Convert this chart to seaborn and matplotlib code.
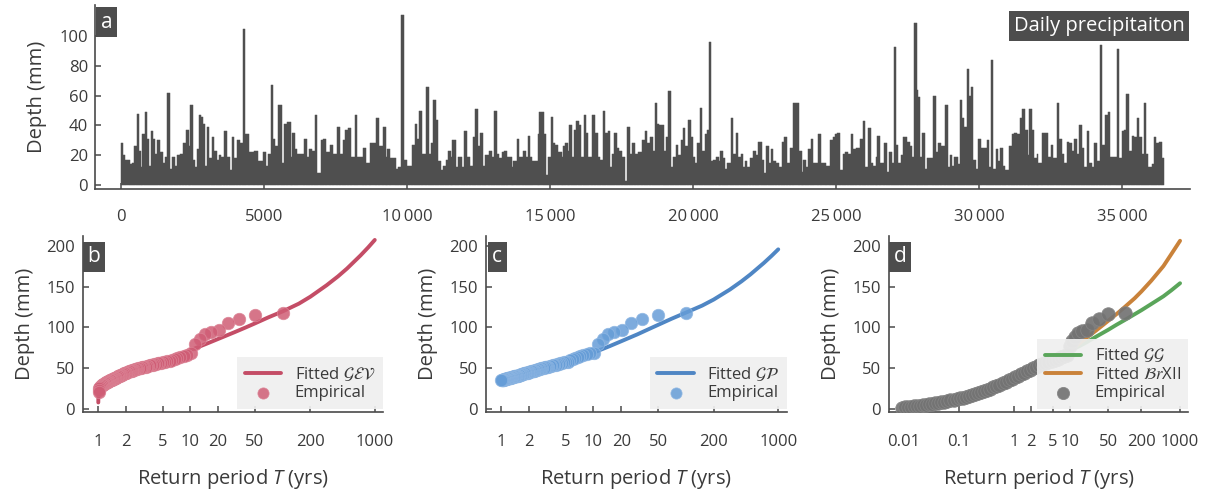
import numpy as np
import matplotlib
matplotlib.use("Agg")
import matplotlib.pyplot as plt
import seaborn as sns

# ------------------------------------------------------------------ data
# panel a: daily precipitation record, (start day of visible segment, depth mm)
rain_record = [
    (0, 28), (82, 20), (140, 17), (315, 14), (373, 15), (466, 26), (548, 48), (618, 23), (688, 12), (746, 34),
    (828, 49), (921, 31), (991, 13), (1037, 36), (1131, 31), (1189, 21), (1271, 30), (1364, 22), (1457, 15), (1550, 19),
    (1620, 62), (1713, 11), (1783, 19), (1888, 13), (1970, 20), (2063, 21), (2180, 28), (2273, 37), (2366, 26), (2413, 54),
    (2506, 17), (2588, 12), (2669, 24), (2716, 47), (2786, 46), (2879, 41), (2949, 13), (2996, 39), (3089, 18), (3170, 32),
    (3264, 23), (3345, 17), (3439, 20), (3497, 19), (3613, 36), (3718, 19), (3811, 10), (3870, 32), (3963, 18), (4068, 30),
    (4161, 28), (4278, 105), (4348, 34), (4464, 22), (4651, 23), (4802, 16), (4954, 22), (5070, 13), (5152, 21), (5234, 67),
    (5327, 31), (5397, 26), (5502, 54), (5618, 15), (5700, 41), (5793, 42), (5933, 19), (5980, 35), (6084, 24), (6166, 21),
    (6399, 31), (6492, 19), (6586, 24), (6667, 23), (6784, 47), (6865, 8), (6982, 30), (7075, 31), (7168, 22), (7308, 27),
    (7401, 21), (7565, 39), (7658, 21), (7775, 30), (7833, 37), (7950, 38), (8031, 19), (8194, 47), (8264, 19), (8451, 25),
    (8567, 15), (8707, 28), (8917, 45),
    (9034, 26), (9173, 39), (9255, 19), (9313, 24), (9407, 18), (9605, 11), (9698, 12), (9791, 114), (9884, 17), (9989, 13),
    (10164, 27), (10281, 41), (10339, 31), (10432, 50), (10537, 21), (10665, 66), (10770, 21), (10840, 28), (10922, 57), (11004, 44),
    (11097, 16), (11190, 10), (11272, 13), (11353, 17), (11423, 23), (11540, 19), (11586, 30), (11703, 12), (11796, 19), (11913, 12),
    (12006, 36), (12099, 19), (12204, 13), (12321, 32), (12379, 51), (12472, 26), (12566, 35), (12659, 13), (12729, 20), (12869, 23),
    (12985, 19), (13055, 50), (13148, 21), (13218, 18), (13312, 22), (13405, 23), (13498, 19), (13661, 12), (13720, 16), (13836, 31),
    (13918, 19), (14070, 23), (14151, 19), (14221, 33), (14303, 19), (14384, 16), (14571, 34), (14629, 49), (14804, 34), (14874, 7),
    (14944, 19), (15037, 46), (15119, 28), (15177, 27), (15293, 22), (15410, 19), (15456, 26), (15527, 28), (15620, 23), (15667, 40),
    (15760, 19), (15830, 37), (15900, 43), (16016, 40), (16086, 19), (16179, 47), (16272, 35), (16342, 19), (16482, 47), (16575, 35),
    (16669, 19), (16762, 17), (16855, 50), (16925, 35), (17018, 36), (17100, 12), (17182, 21), (17252, 35), (17345, 25), (17415, 23),
    (17508, 19), (17625, 3), (17695, 39), (17800, 21), (17881, 28), (17974, 21), (18091, 22), (18207, 30),
    (18324, 36), (18405, 28), (18499, 32), (18592, 23), (18674, 55), (18755, 41), (18825, 40), (18988, 23), (19058, 32), (19140, 63),
    (19221, 12), (19315, 19), (19396, 27), (19490, 20), (19571, 30), (19641, 38), (19734, 26), (19839, 44), (19921, 32), (19991, 19),
    (20073, 15), (20131, 28), (20248, 52), (20329, 23), (20422, 34), (20480, 37), (20550, 96), (20620, 16), (20714, 17), (20807, 19),
    (20900, 16), (20947, 23), (21040, 18), (21133, 11), (21203, 15), (21320, 45), (21413, 21), (21506, 35), (21588, 19), (21669, 21),
    (21739, 12), (21821, 16), (21902, 12), (21996, 18), (22112, 23), (22206, 20), (22287, 29), (22404, 17), (22485, 8), (22555, 26),
    (22649, 15), (22718, 24), (22812, 16), (22905, 15), (23022, 12), (23103, 29), (23197, 32), (23301, 15), (23395, 25), (23488, 55),
    (23721, 23), (23803, 9), (23861, 17), (23954, 12), (24036, 24), (24117, 31), (24211, 15), (24385, 34), (24467, 15), (24654, 13),
    (24793, 30), (24887, 32), (24968, 34), (25050, 35), (25143, 10), (25236, 21), (25330, 22), (25434, 21), (25540, 34), (25609, 24),
    (25702, 25), (25843, 31), (25936, 43), (26029, 12), (26122, 38), (26216, 15), (26309, 13), (26402, 19), (26449, 33), (26542, 15),
    (26694, 28), (26775, 9), (26868, 22), (26962, 15), (27032, 93), (27102, 27), (27183, 15), (27265, 20), (27358, 32), (27475, 29),
    (27591, 26), (27672, 19), (27742, 109), (27824, 64), (27882, 59), (27952, 19), (28022, 35), (28115, 11), (28174, 18), (28395, 60),
    (28488, 22), (28582, 28), (28675, 26), (28815, 54), (28908, 12), (28978, 20), (29048, 13), (29130, 19), (29281, 14), (29339, 57),
    (29421, 45), (29491, 39), (29573, 78), (29654, 60), (29724, 66), (29806, 17), (29887, 11), (29981, 31), (30074, 25), (30272, 30),
    (30354, 12), (30424, 84), (30505, 11), (30587, 24), (30680, 16), (30750, 25), (30843, 13), (30913, 10), (31053, 26), (31146, 34),
    (31239, 35), (31321, 34), (31438, 45), (31519, 51), (31613, 37), (31706, 20), (31752, 51), (31846, 37), (31939, 18), (32020, 21),
    (32079, 15), (32219, 35), (32428, 19), (32522, 27), (32603, 18), (32720, 55), (32802, 31), (32895, 21), (32988, 15), (33070, 29),
    (33151, 28), (33245, 23), (33338, 31), (33419, 21), (33501, 40), (33594, 25), (33687, 12), (33769, 36), (33851, 15), (33944, 12),
    (34037, 28), (34119, 16), (34247, 94), (34317, 27), (34410, 47), (34503, 49), (34585, 19), (34830, 91), (34900, 18), (34993, 36),
    (35063, 37), (35156, 61), (35249, 23), (35343, 33), (35436, 32), (35518, 45), (35599, 32), (35693, 21), (35763, 55), (35833, 21),
    (35926, 12), (36043, 14), (36113, 32), (36206, 28), (36299, 29), (36392, 18),
]
record_end_day = 36470

a_xticks = [0, 5000, 10000, 15000, 20000, 25000, 30000, 35000]
a_xticklabels = ["0", "5000", "10\u2009000", "15\u2009000", "20\u2009000",
                 "25\u2009000", "30\u2009000", "35\u2009000"]
a_yticks = [0, 20, 40, 60, 80, 100]

# panel b: annual maxima (descending), fitted GEV
annual_max_mm = [117, 115, 110, 105.5, 97, 94, 92, 86, 79, 68,
                 66, 65, 64, 63, 61.5, 60.5, 59, 58.5, 58, 57,
                 56.5, 56, 56, 55.5, 55, 54.5, 54, 53.5, 53, 52.5,
                 52, 52, 51.5, 51, 50.5, 50, 50, 49.5, 49, 48.5,
                 48, 48, 47.5, 47, 47, 46.5, 46, 45.5, 45, 44.5,
                 44, 44, 43.5, 43, 42.5, 42, 42, 41.5, 41, 40.5,
                 40, 40, 39.5, 39, 38.5, 38, 38, 37.5, 37, 37,
                 36.5, 36, 36, 35.5, 35, 35, 34.5, 34, 34, 33.5,
                 33, 33, 32.5, 32, 32, 31.5, 31, 31, 30.5, 30,
                 30, 29.5, 29, 28.5, 28, 27.5, 27, 25.5, 23.5, 20.5]
gev_T = [1.0005, 1.002, 1.005, 1.01, 1.02, 1.05, 1.1, 1.2, 1.35, 1.5,
         1.75, 2, 2.5, 3, 4, 5, 7, 10, 15, 20,
         30, 40, 50, 70, 100, 150, 200, 300, 400, 500,
         700, 850, 1000]
gev_mm = [8, 13, 17, 20, 24, 28, 31, 34, 37, 39.5,
          42.5, 45, 48.5, 51.5, 55.5, 58.5, 65, 72, 80, 85.8,
          94, 100, 104.8, 112.2, 119.5, 129, 137.5, 151.5, 162.5, 172,
          188, 198, 207]

# panel c: peaks over threshold (descending), fitted GP
pot_mm = [117, 115, 110, 105.5, 97, 94, 92, 86, 79, 68,
          68, 67, 66, 65, 63.5, 62, 61, 59.5, 58, 57.5,
          57, 56.5, 56, 55.5, 55, 54.5, 54, 53.5, 53, 52.5,
          52, 51.5, 51, 51, 50.5, 50, 50, 49.5, 49, 48.5,
          48, 48, 47.5, 47, 47, 46.5, 46, 46, 45.5, 45,
          45, 44.5, 44.5, 44, 44, 43.5, 43.5, 43, 43, 42.5,
          42.5, 42, 42, 41.5, 41.5, 41, 41, 41, 40.5, 40.5,
          40, 40, 40, 39.5, 39.5, 39, 39, 39, 38.5, 38.5,
          38.5, 38, 38, 38, 37.5, 37.5, 37.5, 37, 37, 37,
          36.5, 36.5, 36.5, 36.5, 36, 36, 36, 35.5, 35.5, 35.5]
gp_T = [1, 1.25, 1.5, 2, 2.5, 3, 4, 5, 7, 10,
        15, 20, 30, 40, 50, 70, 100, 150, 200, 300,
        400, 500, 700, 850, 1000]
gp_mm = [35.5, 38.5, 41, 45.5, 48.5, 51, 54.5, 57.5, 63, 69,
         77, 83, 91.5, 98, 103, 110.5, 118, 126.6, 134, 146.3,
         156.3, 164.8, 178.9, 187.7, 195.5]

# panel d: all daily values (return period, depth), fitted GG and BrXII
daily_T = [0.0090, 0.0102, 0.0116, 0.0132, 0.0150, 0.0170, 0.0193, 0.0220, 0.0250, 0.0284,
           0.0322, 0.0366, 0.0416, 0.0473, 0.0537, 0.0610, 0.0693, 0.0788, 0.0895, 0.1017,
           0.1155, 0.1313, 0.1492, 0.1695, 0.1926, 0.2188, 0.2487, 0.2826, 0.3211, 0.3648,
           0.4145, 0.4710, 0.5352, 0.6082, 0.6910, 0.7852, 0.8922, 1.0138, 1.152, 1.309,
           1.487, 1.690, 1.920, 2.182, 2.479, 2.817, 3.20, 3.64, 4.13, 4.70,
           5.34, 6.06, 6.89, 7.83, 8.90,
           10.1, 11.2, 12.6, 14.4, 16.8, 20.2, 25.3, 33.7, 50.5, 101]
daily_mm = [1.5, 2.0, 2.4, 2.8, 3.2, 3.6, 4.0, 4.6, 5.2, 5.8,
            6.4, 7.0, 7.7, 8.4, 9.1, 9.9, 10.7, 11.5, 12.3, 13.1,
            14.0, 15.0, 16.0, 17.1, 18.3, 19.5, 20.8, 22.1, 23.5, 25.0,
            26.6, 28.2, 29.9, 31.6, 33.4, 35.2, 37.0, 38.8, 40.6, 42.4,
            44.3, 46.2, 48.0, 49.8, 51.5, 53.5, 55.2, 56.8, 58.0, 59.3,
            60.5, 61.8, 63.3, 64.8, 66.5,
            77, 83, 88, 92.5, 95.5, 97, 105.5, 110.5, 116, 118]
gg_T = [5, 7, 10, 15, 20, 30, 50, 70, 100, 150, 200, 300, 500, 700, 1000]
gg_mm = [60.5, 65.5, 71, 77, 81.5, 88.5, 97, 103, 109, 116, 121, 128.5, 138, 145.5, 154]
br_T = [5, 7, 10, 15, 20, 30, 50, 70, 100, 150, 200, 300, 500, 700, 1000]
br_mm = [58, 63.5, 70, 80.5, 87, 96, 108, 116, 125, 135.5, 144, 157, 175, 190, 206]

rp_ticks = [1, 2, 5, 10, 20, 50, 200, 1000]
rp_ticks_d = [0.01, 0.1, 1, 2, 5, 10, 50, 200, 1000]
depth_ticks = [0, 50, 100, 150, 200]

# ------------------------------------------------------------------ style
sns.set_theme(style="ticks")
plt.rcParams["font.family"] = ["Open Sans", "DejaVu Sans"]
plt.rcParams["mathtext.fontset"] = "custom"
plt.rcParams["mathtext.rm"] = "Open Sans"
plt.rcParams["mathtext.it"] = "Open Sans:italic"
plt.rcParams["mathtext.bf"] = "Open Sans:bold"

INK = "#3a3a3a"
SPINE = "#4a4a4a"
BOX = "#4d4d4d"
BAR = "#4f4f4f"
RED, RED_PT = "#c44d66", "#cf5d75"
BLUE, BLUE_PT = "#4f86c4", "#669dd7"
GRAY_PT = "#737373"
GREEN, ORANGE = "#5aa55a", "#c9823a"

fig = plt.figure(figsize=(12.1, 4.95), dpi=100)
fig.patch.set_facecolor("white")


def style_axes(ax, xpad, ypad):
    sns.despine(ax=ax)
    for s in ("left", "bottom"):
        ax.spines[s].set_color(SPINE)
        ax.spines[s].set_linewidth(1.2)
    ax.tick_params(axis="both", direction="in", length=4, width=1.1,
                   color=SPINE, labelcolor=INK, labelsize=12)
    ax.tick_params(axis="x", pad=xpad)
    ax.tick_params(axis="y", pad=ypad)
    ax.minorticks_off()


def panel_tag(ax, letter, x, y):
    ax.text(x, y, letter, transform=ax.transAxes, ha="center", va="center",
            color="white", fontsize=15,
            bbox=dict(boxstyle="square,pad=0.22", facecolor=BOX, edgecolor="none"))


# ---------------- panel a
axa = fig.add_axes([0.0785, 0.618, 0.905, 0.3723])
days = np.array([d for d, _ in rain_record], dtype=float)
mm = np.array([v for _, v in rain_record], dtype=float)
widths = np.diff(np.append(days, record_end_day))
axa.bar(days, mm, width=widths, align="edge", color=BAR,
        edgecolor=BAR, linewidth=0.35)
axa.set_xlim(-909, 37380)
axa.set_ylim(-2.7, 121)
axa.set_xticks(a_xticks)
axa.set_xticklabels(a_xticklabels)
axa.set_yticks(a_yticks)
style_axes(axa, xpad=14, ypad=5)
axa.set_ylabel("Depth (mm)", fontsize=14.5, color=INK, labelpad=9)
panel_tag(axa, "a", 0.0105, 0.905)
axa.text(0.917, 0.884, "Daily precipitaiton", transform=axa.transAxes,
         ha="center", va="center", color="white", fontsize=14.5,
         bbox=dict(boxstyle="square,pad=0.24", facecolor=BOX, edgecolor="none"))


def return_panel(rect, xlim, ticks, ticklabels):
    ax = fig.add_axes(rect)
    ax.set_xscale("log")
    ax.set_xlim(*xlim)
    ax.set_ylim(-3.4, 212)
    ax.set_xticks(ticks)
    ax.set_xticklabels(ticklabels)
    ax.set_yticks(depth_ticks)
    style_axes(ax, xpad=16, ypad=6)
    ax.set_ylabel("Depth (mm)", fontsize=14.5, color=INK, labelpad=8)
    ax.set_xlabel("Return period $T$ (yrs)", fontsize=14.5, color=INK, labelpad=12)
    return ax


def finish_legend(ax):
    leg = ax.legend(loc="lower right", bbox_to_anchor=(1.0, 0.016), borderaxespad=0,
                    frameon=True, fancybox=False, facecolor="#efefef", edgecolor="none",
                    framealpha=0.92, fontsize=12, handlelength=2.2, handletextpad=0.8,
                    labelspacing=0.15, borderpad=0.45, markerscale=0.9)
    for t in leg.get_texts():
        t.set_color(INK)
        t.set_math_fontfamily("stix")
    leg.set_zorder(6)
    return leg


def fmt(v):
    return f"{v:g}"


PT = 80

# ---------------- panel b
axb = return_panel([0.0688, 0.1681, 0.2474, 0.3554], (0.687, 1216), rp_ticks,
                   [fmt(t) for t in rp_ticks])
n_b = len(annual_max_mm)
T_b = (n_b + 1) / np.arange(1, n_b + 1)
sns.lineplot(x=gev_T, y=gev_mm, ax=axb, color=RED, linewidth=2.8, sort=False,
             estimator=None, label=r"Fitted $\mathcal{GEV}$", zorder=2)
sns.scatterplot(x=T_b, y=annual_max_mm, ax=axb, color=RED_PT, s=PT, alpha=0.85,
                edgecolor="#dc8496", linewidth=0.6, label="Empirical", zorder=3)
finish_legend(axb)
panel_tag(axb, "b", 0.036, 0.88)

# ---------------- panel c
axc = return_panel([0.4017, 0.1681, 0.2485, 0.3554], (0.688, 1236), rp_ticks,
                   [fmt(t) for t in rp_ticks])
n_c = len(pot_mm)
T_c = (n_c + 1) / np.arange(1, n_c + 1)
sns.lineplot(x=gp_T, y=gp_mm, ax=axc, color=BLUE, linewidth=2.8, sort=False,
             estimator=None, label=r"Fitted $\mathcal{GP}$", zorder=2)
sns.scatterplot(x=T_c, y=pot_mm, ax=axc, color=BLUE_PT, s=PT, alpha=0.85,
                edgecolor="#8fb7e3", linewidth=0.6, label="Empirical", zorder=3)
finish_legend(axc)
panel_tag(axc, "c", 0.037, 0.88)

# ---------------- panel d
axd = return_panel([0.735, 0.1681, 0.2471, 0.3554], (0.00542, 1413), rp_ticks_d,
                   [fmt(t) for t in rp_ticks_d])
sns.lineplot(x=gg_T, y=gg_mm, ax=axd, color=GREEN, linewidth=2.8, sort=False,
             estimator=None, label=r"Fitted $\mathcal{GG}$", zorder=2)
sns.lineplot(x=br_T, y=br_mm, ax=axd, color=ORANGE, linewidth=2.8, sort=False,
             estimator=None, label=r"Fitted $\mathcal{B}r$XII", zorder=2)
sns.scatterplot(x=daily_T, y=daily_mm, ax=axd, color=GRAY_PT, s=95, alpha=0.92,
                edgecolor="#858585", linewidth=0.6, label="Empirical", zorder=3)
finish_legend(axd)
panel_tag(axd, "d", 0.036, 0.88)

fig.savefig("out.png", dpi=100, facecolor="white")
